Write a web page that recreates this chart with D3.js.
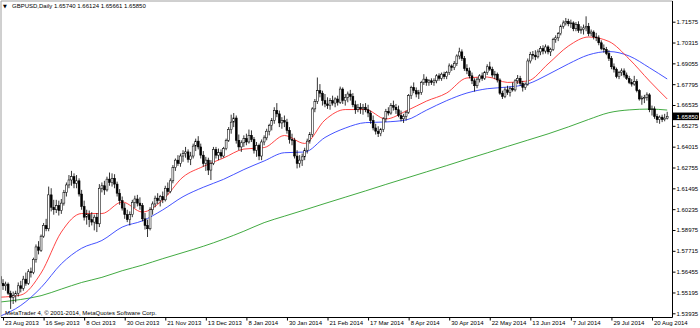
<!DOCTYPE html>
<html>
<head>
<meta charset="utf-8" />
<title>GBPUSD,Daily</title>
<script src="https://d3js.org/d3.v7.min.js"></script>
<style>
  body { margin: 0; background: #fff; }
  svg { display: block; font-family: "Liberation Sans", Arial, sans-serif; }
  .axis text { font-size: 6px; fill: #000; }
</style>
</head>
<body>
<div id="chart"></div>
<script>
// daily candles, 22 Aug 2013 .. 28 Aug 2014
const open = [
  1.5615,1.5575,1.5560,1.5570,1.5515,1.5490,1.5500,1.5515,
  1.5560,1.5545,1.5600,1.5575,1.5645,1.5640,1.5720,1.5795,
  1.5775,1.5860,1.5925,1.5905,1.6110,1.6035,1.6020,1.6045,
  1.6015,1.6060,1.6125,1.6170,1.6200,1.6220,1.6180,1.6195,
  1.6115,1.6040,1.5975,1.5990,1.5960,1.5945,1.5975,1.5935,
  1.6150,1.6165,1.6140,1.6205,1.6185,1.6210,1.6175,1.6120,
  1.6075,1.6030,1.5990,1.5960,1.5990,1.6065,1.6085,1.6060,
  1.6045,1.5965,1.5925,1.5905,1.6020,1.6055,1.6090,1.6075,
  1.6100,1.6080,1.6150,1.6130,1.6195,1.6275,1.6320,1.6300,
  1.6345,1.6360,1.6370,1.6325,1.6345,1.6405,1.6435,1.6400,
  1.6350,1.6300,1.6320,1.6260,1.6300,1.6385,1.6350,1.6365,
  1.6345,1.6390,1.6440,1.6505,1.6550,1.6575,1.6440,1.6400,
  1.6425,1.6450,1.6430,1.6470,1.6445,1.6380,1.6410,1.6345,
  1.6430,1.6455,1.6495,1.6530,1.6560,1.6620,1.6600,1.6545,
  1.6560,1.6550,1.6500,1.6445,1.6440,1.6345,1.6300,1.6320,
  1.6340,1.6380,1.6435,1.6475,1.6630,1.6675,1.6740,1.6725,
  1.6680,1.6660,1.6650,1.6680,1.6665,1.6690,1.6670,1.6750,
  1.6680,1.6700,1.6720,1.6705,1.6655,1.6625,1.6640,1.6630,
  1.6640,1.6625,1.6605,1.6560,1.6515,1.6495,1.6480,1.6505,
  1.6570,1.6615,1.6605,1.6650,1.6640,1.6625,1.6590,1.6570,
  1.6585,1.6610,1.6710,1.6760,1.6740,1.6720,1.6730,1.6790,
  1.6810,1.6790,1.6800,1.6790,1.6800,1.6830,1.6815,1.6840,
  1.6825,1.6850,1.6890,1.6880,1.6905,1.6950,1.6975,1.6935,
  1.6875,1.6860,1.6830,1.6800,1.6770,1.6810,1.6830,1.6815,
  1.6850,1.6885,1.6870,1.6835,1.6840,1.6805,1.6725,1.6705,
  1.6745,1.6730,1.6755,1.6745,1.6800,1.6815,1.6785,1.6760,
  1.6780,1.6920,1.6960,1.6955,1.6945,1.6975,1.6995,1.6980,
  1.7005,1.6975,1.6990,1.7050,1.7060,1.7085,1.7130,1.7150,
  1.7160,1.7145,1.7150,1.7115,1.7140,1.7105,1.7110,1.7120,
  1.7130,1.7085,1.7095,1.7065,1.7060,1.7030,1.6995,1.6990,
  1.6965,1.6935,1.6885,1.6870,1.6825,1.6850,1.6860,1.6835,
  1.6815,1.6790,1.6780,1.6795,1.6740,1.6690,1.6695,1.6700,
  1.6715,1.6625,1.6630,1.6585,1.6565,1.6580,1.6565,1.65740
];
const high = [
  1.5635,1.5600,1.5585,1.5580,1.5530,1.5525,1.5530,1.5580,
  1.5590,1.5620,1.5640,1.5660,1.5670,1.5730,1.5810,1.5830,
  1.5870,1.5940,1.5965,1.6160,1.6150,1.6080,1.6080,1.6075,
  1.6085,1.6140,1.6185,1.6230,1.6255,1.6240,1.6230,1.6210,
  1.6140,1.6075,1.6020,1.6015,1.6005,1.5990,1.6000,1.6175,
  1.6185,1.6195,1.6220,1.6245,1.6240,1.6235,1.6190,1.6145,
  1.6100,1.6060,1.6020,1.6010,1.6080,1.6105,1.6110,1.6095,
  1.6060,1.6000,1.5960,1.6035,1.6070,1.6105,1.6120,1.6110,
  1.6130,1.6165,1.6185,1.6210,1.6290,1.6330,1.6350,1.6360,
  1.6380,1.6400,1.6385,1.6370,1.6420,1.6450,1.6465,1.6420,
  1.6375,1.6340,1.6335,1.6320,1.6400,1.6400,1.6390,1.6385,
  1.6400,1.6450,1.6520,1.6595,1.6605,1.6590,1.6475,1.6440,
  1.6470,1.6480,1.6505,1.6500,1.6460,1.6430,1.6420,1.6445,
  1.6470,1.6510,1.6540,1.6575,1.6640,1.6665,1.6620,1.6580,
  1.6590,1.6570,1.6520,1.6480,1.6455,1.6380,1.6350,1.6360,
  1.6395,1.6450,1.6490,1.6640,1.6690,1.6820,1.6780,1.6740,
  1.6720,1.6700,1.6695,1.6710,1.6700,1.6710,1.6765,1.6760,
  1.6720,1.6735,1.6745,1.6725,1.6680,1.6660,1.6665,1.6660,
  1.6665,1.6655,1.6620,1.6590,1.6540,1.6525,1.6515,1.6580,
  1.6630,1.6640,1.6665,1.6680,1.6660,1.6650,1.6620,1.6600,
  1.6620,1.6720,1.6770,1.6790,1.6760,1.6745,1.6800,1.6840,
  1.6825,1.6810,1.6815,1.6815,1.6840,1.6845,1.6850,1.6855,
  1.6860,1.6905,1.6900,1.6920,1.6960,1.7000,1.6990,1.6950,
  1.6900,1.6880,1.6850,1.6815,1.6820,1.6840,1.6850,1.6860,
  1.6900,1.6915,1.6885,1.6860,1.6850,1.6815,1.6740,1.6760,
  1.6770,1.6765,1.6790,1.6810,1.6835,1.6830,1.6800,1.6790,
  1.6935,1.6975,1.6980,1.6985,1.6990,1.7010,1.7015,1.7020,
  1.7015,1.7000,1.7060,1.7075,1.7095,1.7140,1.7165,1.7180,
  1.7175,1.7170,1.7160,1.7155,1.7160,1.7130,1.7140,1.7190,
  1.7150,1.7110,1.7105,1.7090,1.7075,1.7045,1.7020,1.7005,
  1.6985,1.6950,1.6905,1.6880,1.6860,1.6875,1.6875,1.6850,
  1.6830,1.6810,1.6830,1.6810,1.6750,1.6710,1.6715,1.6730,
  1.6725,1.6650,1.6645,1.6600,1.6590,1.6595,1.6600,1.66124
];
const low = [
  1.5560,1.5535,1.5530,1.5505,1.5420,1.5450,1.5460,1.5495,
  1.5520,1.5530,1.5560,1.5565,1.5610,1.5630,1.5700,1.5750,
  1.5765,1.5850,1.5890,1.5890,1.6010,1.5990,1.6000,1.5985,
  1.5995,1.6045,1.6100,1.6150,1.6165,1.6150,1.6150,1.6100,
  1.6020,1.5955,1.5930,1.5915,1.5925,1.5895,1.5885,1.5915,
  1.6125,1.6110,1.6130,1.6165,1.6160,1.6150,1.6100,1.6050,
  1.6015,1.5965,1.5945,1.5925,1.5975,1.6030,1.6040,1.6020,
  1.5950,1.5900,1.5855,1.5895,1.5990,1.6035,1.6055,1.6040,
  1.6060,1.6070,1.6110,1.6120,1.6180,1.6255,1.6285,1.6280,
  1.6310,1.6335,1.6305,1.6290,1.6330,1.6375,1.6385,1.6330,
  1.6280,1.6255,1.6230,1.6200,1.6290,1.6330,1.6320,1.6330,
  1.6335,1.6380,1.6430,1.6480,1.6520,1.6420,1.6380,1.6370,
  1.6400,1.6410,1.6420,1.6430,1.6360,1.6340,1.6320,1.6320,
  1.6410,1.6440,1.6470,1.6500,1.6540,1.6580,1.6520,1.6510,
  1.6520,1.6480,1.6420,1.6410,1.6330,1.6270,1.6275,1.6285,
  1.6320,1.6360,1.6420,1.6460,1.6610,1.6660,1.6700,1.6650,
  1.6640,1.6630,1.6625,1.6650,1.6640,1.6650,1.6660,1.6660,
  1.6650,1.6670,1.6680,1.6640,1.6600,1.6610,1.6600,1.6595,
  1.6610,1.6580,1.6540,1.6500,1.6475,1.6460,1.6465,1.6490,
  1.6550,1.6590,1.6595,1.6620,1.6600,1.6580,1.6555,1.6545,
  1.6560,1.6600,1.6690,1.6725,1.6700,1.6690,1.6715,1.6775,
  1.6770,1.6770,1.6775,1.6770,1.6785,1.6800,1.6800,1.6810,
  1.6810,1.6835,1.6860,1.6865,1.6890,1.6930,1.6920,1.6860,
  1.6840,1.6815,1.6780,1.6735,1.6755,1.6790,1.6800,1.6805,
  1.6835,1.6860,1.6820,1.6810,1.6790,1.6715,1.6690,1.6695,
  1.6715,1.6705,1.6735,1.6735,1.6780,1.6770,1.6735,1.6745,
  1.6770,1.6905,1.6930,1.6925,1.6935,1.6955,1.6960,1.6965,
  1.6960,1.6950,1.6980,1.7030,1.7040,1.7075,1.7115,1.7135,
  1.7130,1.7120,1.7100,1.7100,1.7090,1.7085,1.7080,1.7100,
  1.7070,1.7070,1.7050,1.7040,1.7015,1.6985,1.6970,1.6955,
  1.6920,1.6870,1.6850,1.6815,1.6810,1.6830,1.6820,1.6805,
  1.6780,1.6765,1.6770,1.6730,1.6680,1.6655,1.6665,1.6680,
  1.6610,1.6590,1.6570,1.6545,1.6540,1.6550,1.6555,1.65661
];
const close = [
  1.5575,1.5560,1.5570,1.5515,1.5490,1.5500,1.5515,1.5560,
  1.5545,1.5600,1.5575,1.5645,1.5640,1.5720,1.5795,1.5775,
  1.5860,1.5925,1.5905,1.6110,1.6035,1.6020,1.6045,1.6015,
  1.6060,1.6125,1.6170,1.6200,1.6220,1.6180,1.6195,1.6115,
  1.6040,1.5975,1.5990,1.5960,1.5945,1.5975,1.5935,1.6150,
  1.6165,1.6140,1.6205,1.6185,1.6210,1.6175,1.6120,1.6075,
  1.6030,1.5990,1.5960,1.5990,1.6065,1.6085,1.6060,1.6045,
  1.5965,1.5925,1.5905,1.6020,1.6055,1.6090,1.6075,1.6100,
  1.6080,1.6150,1.6130,1.6195,1.6275,1.6320,1.6300,1.6345,
  1.6360,1.6370,1.6325,1.6345,1.6405,1.6435,1.6400,1.6350,
  1.6300,1.6320,1.6260,1.6300,1.6385,1.6350,1.6365,1.6345,
  1.6390,1.6440,1.6505,1.6550,1.6575,1.6440,1.6400,1.6425,
  1.6450,1.6430,1.6470,1.6445,1.6380,1.6410,1.6345,1.6430,
  1.6455,1.6495,1.6530,1.6560,1.6620,1.6600,1.6545,1.6560,
  1.6550,1.6500,1.6445,1.6440,1.6345,1.6300,1.6320,1.6340,
  1.6380,1.6435,1.6475,1.6630,1.6675,1.6740,1.6725,1.6680,
  1.6660,1.6650,1.6680,1.6665,1.6690,1.6670,1.6750,1.6680,
  1.6700,1.6720,1.6705,1.6655,1.6625,1.6640,1.6630,1.6640,
  1.6625,1.6605,1.6560,1.6515,1.6495,1.6480,1.6505,1.6570,
  1.6615,1.6605,1.6650,1.6640,1.6625,1.6590,1.6570,1.6585,
  1.6610,1.6710,1.6760,1.6740,1.6720,1.6730,1.6790,1.6810,
  1.6790,1.6800,1.6790,1.6800,1.6830,1.6815,1.6840,1.6825,
  1.6850,1.6890,1.6880,1.6905,1.6950,1.6975,1.6935,1.6875,
  1.6860,1.6830,1.6800,1.6770,1.6810,1.6830,1.6815,1.6850,
  1.6885,1.6870,1.6835,1.6840,1.6805,1.6725,1.6705,1.6745,
  1.6730,1.6755,1.6745,1.6800,1.6815,1.6785,1.6760,1.6780,
  1.6920,1.6960,1.6955,1.6945,1.6975,1.6995,1.6980,1.7005,
  1.6975,1.6990,1.7050,1.7060,1.7085,1.7130,1.7150,1.7160,
  1.7145,1.7150,1.7115,1.7140,1.7105,1.7110,1.7120,1.7130,
  1.7085,1.7095,1.7065,1.7060,1.7030,1.6995,1.6990,1.6965,
  1.6935,1.6885,1.6870,1.6825,1.6850,1.6860,1.6835,1.6815,
  1.6790,1.6780,1.6795,1.6740,1.6690,1.6695,1.6700,1.6715,
  1.6625,1.6630,1.6585,1.6565,1.6580,1.6565,1.6574,1.65850
];

// moving averages, read every 8th bar
const maBars  = [0,8,16,24,32,40,48,56,64,72,80,88,96,104,112,120,128,136,144,152,160,168,176,184,192,200,208,216,224,232,240,248,256,263];
const maRed   = [1.5491,1.5504,1.5637,1.5885,1.5997,1.5997,1.6067,1.6006,1.6079,1.6218,1.6282,1.6333,1.6387,1.6396,1.6469,1.6421,1.6563,1.6626,1.6626,1.6569,1.6617,1.6677,1.6726,1.6817,1.6823,1.6790,1.6799,1.6902,1.7010,1.7065,1.7038,1.6932,1.6799,1.6690];
const maBlue  = [1.5377,1.5441,1.5549,1.5693,1.5787,1.5834,1.5915,1.5953,1.6019,1.6099,1.6156,1.6204,1.6263,1.6315,1.6365,1.6369,1.6457,1.6514,1.6547,1.6551,1.6563,1.6622,1.6680,1.6726,1.6752,1.6762,1.6781,1.6838,1.6902,1.6957,1.6977,1.6950,1.6879,1.6811];
const maGreen = [1.5462,1.5477,1.5500,1.5540,1.5580,1.5611,1.5651,1.5685,1.5724,1.5761,1.5799,1.5842,1.5890,1.5942,1.5981,1.6019,1.6058,1.6096,1.6134,1.6173,1.6211,1.6249,1.6287,1.6326,1.6364,1.6403,1.6441,1.6479,1.6521,1.6566,1.6607,1.6624,1.6629,1.6623];

const priceTicks = [1.71575,1.70315,1.69055,1.67795,1.66535,1.65275,1.64015,1.62755,1.61495,1.60235,1.58975,1.57715,1.56455,1.55195,1.53935];
const dateBars = [1,17,33,49,65,81,97,113,129,145,161,177,193,209,225,241,257];
const dateLabels = ["23 Aug 2013","16 Sep 2013","8 Oct 2013","30 Oct 2013","21 Nov 2013","13 Dec 2013","8 Jan 2014","30 Jan 2014","21 Feb 2014","17 Mar 2014","8 Apr 2014","30 Apr 2014","22 May 2014","13 Jun 2014","7 Jul 2014","29 Jul 2014","20 Aug 2014"];

const symbol = "GBPUSD,Daily";
const lastBar = ["1.65740","1.66124","1.65661","1.65850"];
const copyright = "MetaTrader 4, \u00a9 2001-2014, MetaQuotes Software Corp.";

const width = 700, height = 328;
const pLeft = 1, pTop = 1, pRight = 672.5, pBottom = 317.5;

const x = d3.scaleLinear().domain([0, close.length - 1]).range([0.5, 667.2]);
const y = d3.scaleLinear().domain([1.53935, 1.71575]).range([313.3, 21.7]);

const svg = d3.select("#chart").append("svg")
  .attr("width", width).attr("height", height)
  .attr("viewBox", [0, 0, width, height]);

svg.append("rect").attr("width", width).attr("height", height).attr("fill", "#fff");

svg.append("clipPath").attr("id", "plot")
  .append("rect").attr("x", pLeft).attr("y", pTop)
  .attr("width", pRight - pLeft).attr("height", pBottom - pTop);

const plotG = svg.append("g").attr("clip-path", "url(#plot)");

// moving averages
const maLine = d3.line()
  .x((d, i) => x(maBars[i]))
  .y(d => y(d))
  .curve(d3.curveMonotoneX);

[[maGreen, "#2ca02c"], [maBlue, "#3040ff"], [maRed, "#ff3030"]].forEach(([vals, col]) => {
  plotG.append("path")
    .attr("d", maLine(vals))
    .attr("fill", "none")
    .attr("stroke", col)
    .attr("stroke-width", 0.9);
});

// candles
const idx = d3.range(close.length);
const candle = plotG.append("g").selectAll("g").data(idx).join("g");

candle.append("line")
  .attr("x1", i => x(i)).attr("x2", i => x(i))
  .attr("y1", i => y(high[i])).attr("y2", i => y(low[i]))
  .attr("stroke", "#000").attr("stroke-width", 0.8);

candle.append("rect")
  .attr("x", i => x(i) - 0.95)
  .attr("width", 1.9)
  .attr("y", i => y(Math.max(open[i], close[i])))
  .attr("height", i => Math.max(0.5, Math.abs(y(open[i]) - y(close[i]))))
  .attr("fill", i => close[i] >= open[i] ? "#fff" : "#000")
  .attr("stroke", "#000").attr("stroke-width", 0.55);

// frame
svg.append("line").attr("x1", pLeft).attr("x2", pRight).attr("y1", pTop).attr("y2", pTop)
  .attr("stroke", "#a0a0a0");
svg.append("line").attr("x1", pLeft).attr("x2", pLeft).attr("y1", pTop).attr("y2", pBottom)
  .attr("stroke", "#a0a0a0");

// price axis
const yAxis = svg.append("g")
  .attr("class", "axis")
  .attr("transform", `translate(${pRight},0)`)
  .call(d3.axisRight(y).tickValues(priceTicks).tickSize(3).tickPadding(1).tickFormat(d3.format(".5f")));
yAxis.select(".domain").remove();
yAxis.selectAll("line").attr("stroke", "#000");
svg.append("line").attr("x1", pRight).attr("x2", pRight).attr("y1", pTop).attr("y2", pBottom)
  .attr("stroke", "#000");

// time axis
const xAxis = svg.append("g")
  .attr("class", "axis")
  .attr("transform", `translate(0,${pBottom})`)
  .call(d3.axisBottom(x).tickValues(dateBars).tickSize(3).tickPadding(0).tickFormat((d, i) => dateLabels[i]));
xAxis.select(".domain").remove();
xAxis.selectAll("line").attr("stroke", "#000");
xAxis.selectAll("text").attr("text-anchor", "start").attr("dx", 1.5).attr("y", 3.5);
svg.append("line").attr("x1", pLeft).attr("x2", pRight).attr("y1", pBottom).attr("y2", pBottom)
  .attr("stroke", "#000");

// current price marker
const lastY = y(+lastBar[3]);
svg.append("rect").attr("x", pRight + 0.5).attr("y", lastY - 3.8).attr("width", 26).attr("height", 7.6)
  .attr("fill", "#000");
svg.append("text").attr("x", pRight + 4).attr("y", lastY + 2.2)
  .attr("font-size", 6).attr("fill", "#fff").text(lastBar[3]);

// header and footer
svg.append("text").attr("x", 3).attr("y", 8).attr("font-size", 5)
  .attr("font-family", "DejaVu Sans").attr("fill", "#000").text("\u25bc");
svg.append("text").attr("x", 12).attr("y", 8.2).attr("font-size", 6).attr("fill", "#000")
  .text(symbol + "  " + lastBar.join(" "));
svg.append("text").attr("x", 5).attr("y", 315.3).attr("font-size", 6).attr("fill", "#000")
  .text(copyright);
</script>
</body>
</html>
